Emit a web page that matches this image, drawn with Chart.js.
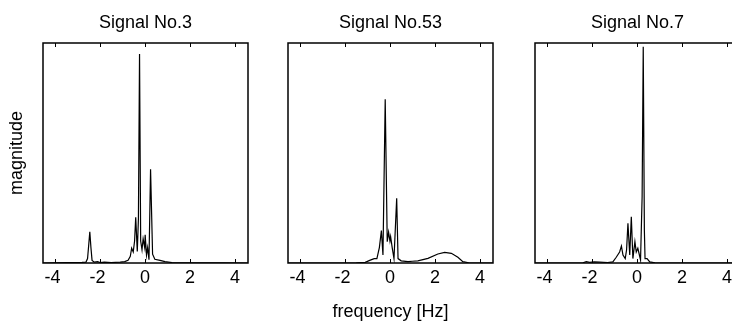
<!DOCTYPE html>
<html>
<head>
<meta charset="utf-8">
<script src="https://cdn.jsdelivr.net/npm/chart.js@4.4.1/dist/chart.umd.min.js"></script>
<style>
  html, body { margin: 0; padding: 0; background: #fff; }
  body { width: 732px; height: 327px; overflow: hidden; position: relative; }
  canvas { position: absolute; top: 0; }
</style>
</head>
<body>
<canvas id="c1" width="291" height="327" style="left:0px"></canvas>
<canvas id="c2" width="291" height="327" style="left:245px"></canvas>
<canvas id="c3" width="291" height="327" style="left:492px"></canvas>
<script>
// spectra (magnitude normalised to the shared axis)
const titles = ['Signal No.3', 'Signal No.53', 'Signal No.7']
const xTicks = [-4, -2, 0, 2, 4]

const freq3 = [-4.53, -3.5, -2.8, -2.62, -2.55, -2.5, -2.45, -2.4, -2.35, -2.25, -2.1, -2.0, -1.8, -1.5, -1.1, -0.9, -0.75, -0.65, -0.59, -0.52, -0.46, -0.41, -0.34, -0.29, -0.24, -0.19, -0.13, -0.08, -0.01, 0.01, 0.07, 0.12, 0.18, 0.25, 0.34, 0.44, 0.67, 0.89, 1.2, 2.0, 3.5, 4.58]
const mag3 = [0, 0.002, 0.003, 0.004, 0.02, 0.08, 0.142, 0.07, 0.012, 0.004, 0.006, 0.002, 0.004, 0.002, 0.004, 0.006, 0.012, 0.03, 0.067, 0.05, 0.1, 0.208, 0.052, 0.2, 0.95, 0.1, 0.06, 0.11, 0.07, 0.128, 0.036, 0.07, 0.015, 0.426, 0.04, 0.017, 0.012, 0.006, 0.002, 0.001, 0.001, 0]

const freq53 = [-4.53, -1.5, -1.1, -0.9, -0.7, -0.58, -0.47, -0.38, -0.31, -0.21, -0.12, -0.06, 0.0, 0.03, 0.1, 0.18, 0.3, 0.36, 0.5, 0.8, 1.0, 1.24, 1.69, 2.13, 2.43, 2.73, 3.02, 3.24, 3.5, 4.58]
const mag53 = [0, 0.001, 0.003, 0.012, 0.02, 0.02, 0.07, 0.147, 0.036, 0.744, 0.097, 0.14, 0.1, 0.12, 0.07, 0.02, 0.294, 0.02, 0.01, 0.006, 0.008, 0.01, 0.021, 0.041, 0.048, 0.044, 0.026, 0.006, 0.001, 0]

const freq7 = [-4.53, -2.4, -2.25, -2.1, -1.9, -1.66, -1.3, -1.07, -0.92, -0.77, -0.69, -0.62, -0.52, -0.46, -0.4, -0.32, -0.25, -0.18, -0.09, -0.03, 0.04, 0.16, 0.23, 0.28, 0.33, 0.36, 0.45, 0.57, 0.8, 4.58]
const mag7 = [0, 0.001, 0.006, 0.003, 0.005, 0.004, 0.002, 0.005, 0.026, 0.05, 0.077, 0.036, 0.02, 0.06, 0.18, 0.036, 0.21, 0.02, 0.097, 0.05, 0.067, 0.014, 0.3, 0.983, 0.15, 0.02, 0.02, 0.005, 0.001, 0]

Chart.defaults.font.family = '"Liberation Sans", Arial, Helvetica, sans-serif'
Chart.defaults.font.size = 18
Chart.defaults.color = '#000'

const frame = {
    id: 'frame',
    afterDatasetsDraw(chart) {
        const ctx = chart.ctx
        const a = chart.chartArea
        const x = chart.scales.x
        ctx.save()
        ctx.strokeStyle = '#000'
        ctx.lineWidth = 1.5
        ctx.strokeRect(a.left, a.top, a.right - a.left, a.bottom - a.top)
        ctx.lineWidth = 1
        x.ticks.forEach(t => {
            const px = Math.round(x.getPixelForValue(t.value)) + 0.5
            ctx.beginPath()
            ctx.moveTo(px, a.bottom)
            ctx.lineTo(px, a.bottom - 4)
            ctx.moveTo(px, a.top)
            ctx.lineTo(px, a.top + 4)
            ctx.stroke()
        })
        ctx.restore()
    }
}

function makePanel(id, idx, freq, mag) {
    const first = idx === 0
    const middle = idx === 1
    const points = freq.map((f, i) => ({x: f, y: mag[i]}))
    return new Chart(document.getElementById(id), {
        type: 'line',
        data: {
            datasets: [{
                data: points,
                borderColor: '#000',
                borderWidth: 1.2,
                pointRadius: 0,
                tension: 0,
                fill: false
            }]
        },
        options: {
            responsive: false,
            animation: false,
            layout: {
                padding: {left: first ? 0 : 43, right: 43, top: 0, bottom: middle ? 4.2 : 34}
            },
            plugins: {
                legend: {display: false},
                tooltip: {enabled: false},
                title: {
                    display: true,
                    fullSize: false,
                    text: titles[idx],
                    font: {size: 18, weight: 'normal'},
                    color: '#000',
                    padding: {top: 12.2, bottom: 9.2}
                }
            },
            scales: {
                x: {
                    type: 'linear',
                    min: -4.53,
                    max: 4.58,
                    afterBuildTicks: s => { s.ticks = xTicks.map(v => ({value: v})) },
                    grid: {display: false, drawTicks: false},
                    border: {display: false},
                    ticks: {
                        padding: 4.2,
                        autoSkip: false,
                        maxRotation: 0,
                        includeBounds: false,
                        font: {size: 18},
                        callback: v => v < 0 ? v + ' ' : String(v)
                    },
                    title: {
                        display: middle,
                        text: 'frequency [Hz]',
                        font: {size: 18},
                        padding: {top: 8.2, bottom: 0}
                    }
                },
                y: {
                    display: first,
                    min: 0,
                    max: 1,
                    grid: {display: false, drawTicks: false},
                    border: {display: false},
                    ticks: {display: false},
                    title: {
                        display: first,
                        text: 'magnitude',
                        font: {size: 18},
                        padding: {top: 6.2, bottom: 15.2}
                    }
                }
            }
        },
        plugins: [frame]
    })
}

makePanel('c1', 0, freq3, mag3)
makePanel('c2', 1, freq53, mag53)
makePanel('c3', 2, freq7, mag7)
</script>
</body>
</html>
